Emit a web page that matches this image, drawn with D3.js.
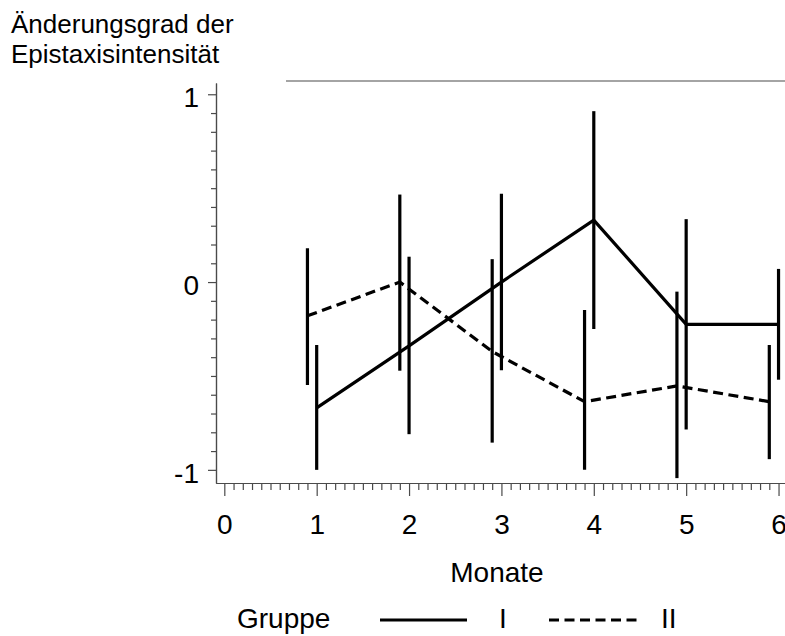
<!DOCTYPE html>
<html>
<head>
<meta charset="utf-8">
<script src="https://cdn.jsdelivr.net/npm/d3@7"></script>
<style>
  html, body { margin: 0; padding: 0; background: #fff; }
  svg { display: block; font-family: "Liberation Sans", Arial, sans-serif; }
</style>
</head>
<body>
<svg id="chart" width="785" height="636"></svg>
<script>
// Month positions of each group (group II is shifted slightly left)
const monthsI  = [1, 2, 3, 4, 5, 6];
const monthsII = [0.9, 1.9, 2.9, 3.9, 4.9, 5.9];

// Group I: mean change and error-bar ends
const meanI = [-0.67, -0.34, 0.0, 0.33, -0.225, -0.225];
const lowI  = [-1.0, -0.81, -0.47, -0.25, -0.785, -0.52];
const highI = [-0.335, 0.135, 0.47, 0.91, 0.335, 0.07];

// Group II: mean change and error-bar ends
const meanII = [-0.18, 0.0, -0.37, -0.637, -0.553, -0.637];
const lowII  = [-0.548, -0.472, -0.855, -1.0, -1.044, -0.943];
const highII = [0.18, 0.466, 0.122, -0.149, -0.051, -0.335];

// Axis tick values and labels
const xMajor = [0, 1, 2, 3, 4, 5, 6];
const yMajor = [-1, 0, 1];
const yTickLabels = ["-1", "0", "1"];

const groups = [
  { name: "I",  x: monthsI,  mean: meanI,  low: lowI,  high: highI,  dash: null },
  { name: "II", x: monthsII, mean: meanII, low: lowII, high: highII, dash: "10,5.5" }
];

const svg = d3.select("#chart");

const x = d3.scaleLinear().domain([-0.09, 6.07]).range([216, 785]);
const y = d3.scaleLinear().domain([-1.07, 1.06]).range([483, 83]);

const axisColor = "#4a4a4a";
const tickFont = 28;
const labelFont = 28;

// Minor ticks every 0.1
const xMinor = d3.range(0, 61).map(i => i / 10).filter(v => Math.abs(v - Math.round(v)) > 1e-6);
const yMinor = d3.range(-10, 11).map(i => i / 10).filter(v => Math.abs(v - Math.round(v)) > 1e-6);

// Top frame line
svg.append("line")
  .attr("x1", 286).attr("x2", 785)
  .attr("y1", 81).attr("y2", 81)
  .attr("stroke", axisColor).attr("stroke-width", 1.2);

// Y axis
const yAxisMinor = svg.append("g").attr("transform", "translate(216,0)")
  .call(d3.axisLeft(y).tickValues(yMinor).tickSize(5).tickFormat("").tickSizeOuter(0));
const yAxis = svg.append("g").attr("transform", "translate(216,0)")
  .call(d3.axisLeft(y).tickValues(yMajor).tickSize(8).tickPadding(9)
    .tickFormat((d, i) => yTickLabels[i]).tickSizeOuter(0));

// X axis
const xAxisMinor = svg.append("g").attr("transform", "translate(0,483)")
  .call(d3.axisBottom(x).tickValues(xMinor).tickSize(7).tickFormat("").tickSizeOuter(0));
const xAxis = svg.append("g").attr("transform", "translate(0,483)")
  .call(d3.axisBottom(x).tickValues(xMajor).tickSize(13).tickPadding(18)
    .tickFormat(d3.format("d")).tickSizeOuter(0));

[yAxisMinor, yAxis, xAxisMinor, xAxis].forEach(g => {
  g.selectAll("path.domain").attr("stroke", axisColor).attr("stroke-width", 1.2);
  g.selectAll(".tick line").attr("stroke", axisColor).attr("stroke-width", 1.2);
  g.selectAll("text").attr("font-size", tickFont).attr("fill", "#000")
    .attr("font-family", "Liberation Sans, Arial, sans-serif");
});
yAxis.selectAll("text").attr("dy", "0.45em");

// Error bars and mean lines
const line = d3.line().x(d => x(d[0])).y(d => y(d[1]));

groups.forEach(g => {
  g.x.forEach((xv, i) => {
    svg.append("line")
      .attr("x1", x(xv)).attr("x2", x(xv))
      .attr("y1", y(g.low[i])).attr("y2", y(g.high[i]))
      .attr("stroke", "#000").attr("stroke-width", 3.2);
  });
  svg.append("path")
    .datum(g.x.map((xv, i) => [xv, g.mean[i]]))
    .attr("d", line)
    .attr("fill", "none")
    .attr("stroke", "#000")
    .attr("stroke-width", 3.2)
    .attr("stroke-dasharray", g.dash);
});

// Y axis title (two lines)
const title = svg.append("text").attr("font-size", 26).attr("fill", "#000");
title.append("tspan").attr("x", 11).attr("y", 33).text("Änderungsgrad der");
title.append("tspan").attr("x", 11).attr("y", 63).text("Epistaxisintensität");

// X axis title
svg.append("text")
  .attr("x", 497).attr("y", 582)
  .attr("text-anchor", "middle")
  .attr("font-size", labelFont).attr("fill", "#000")
  .text("Monate");

// Legend
const legY = 620;
svg.append("text").attr("x", 237).attr("y", 628).attr("font-size", labelFont).text("Gruppe");
svg.append("line").attr("x1", 380).attr("x2", 467).attr("y1", legY).attr("y2", legY)
  .attr("stroke", "#000").attr("stroke-width", 3.2);
svg.append("text").attr("x", 499).attr("y", 628).attr("font-size", labelFont).text(groups[0].name);
svg.append("line").attr("x1", 549).attr("x2", 637).attr("y1", legY).attr("y2", legY)
  .attr("stroke", "#000").attr("stroke-width", 3.2).attr("stroke-dasharray", groups[1].dash);
svg.append("text").attr("x", 661).attr("y", 628).attr("font-size", labelFont).text(groups[1].name);
</script>
</body>
</html>
